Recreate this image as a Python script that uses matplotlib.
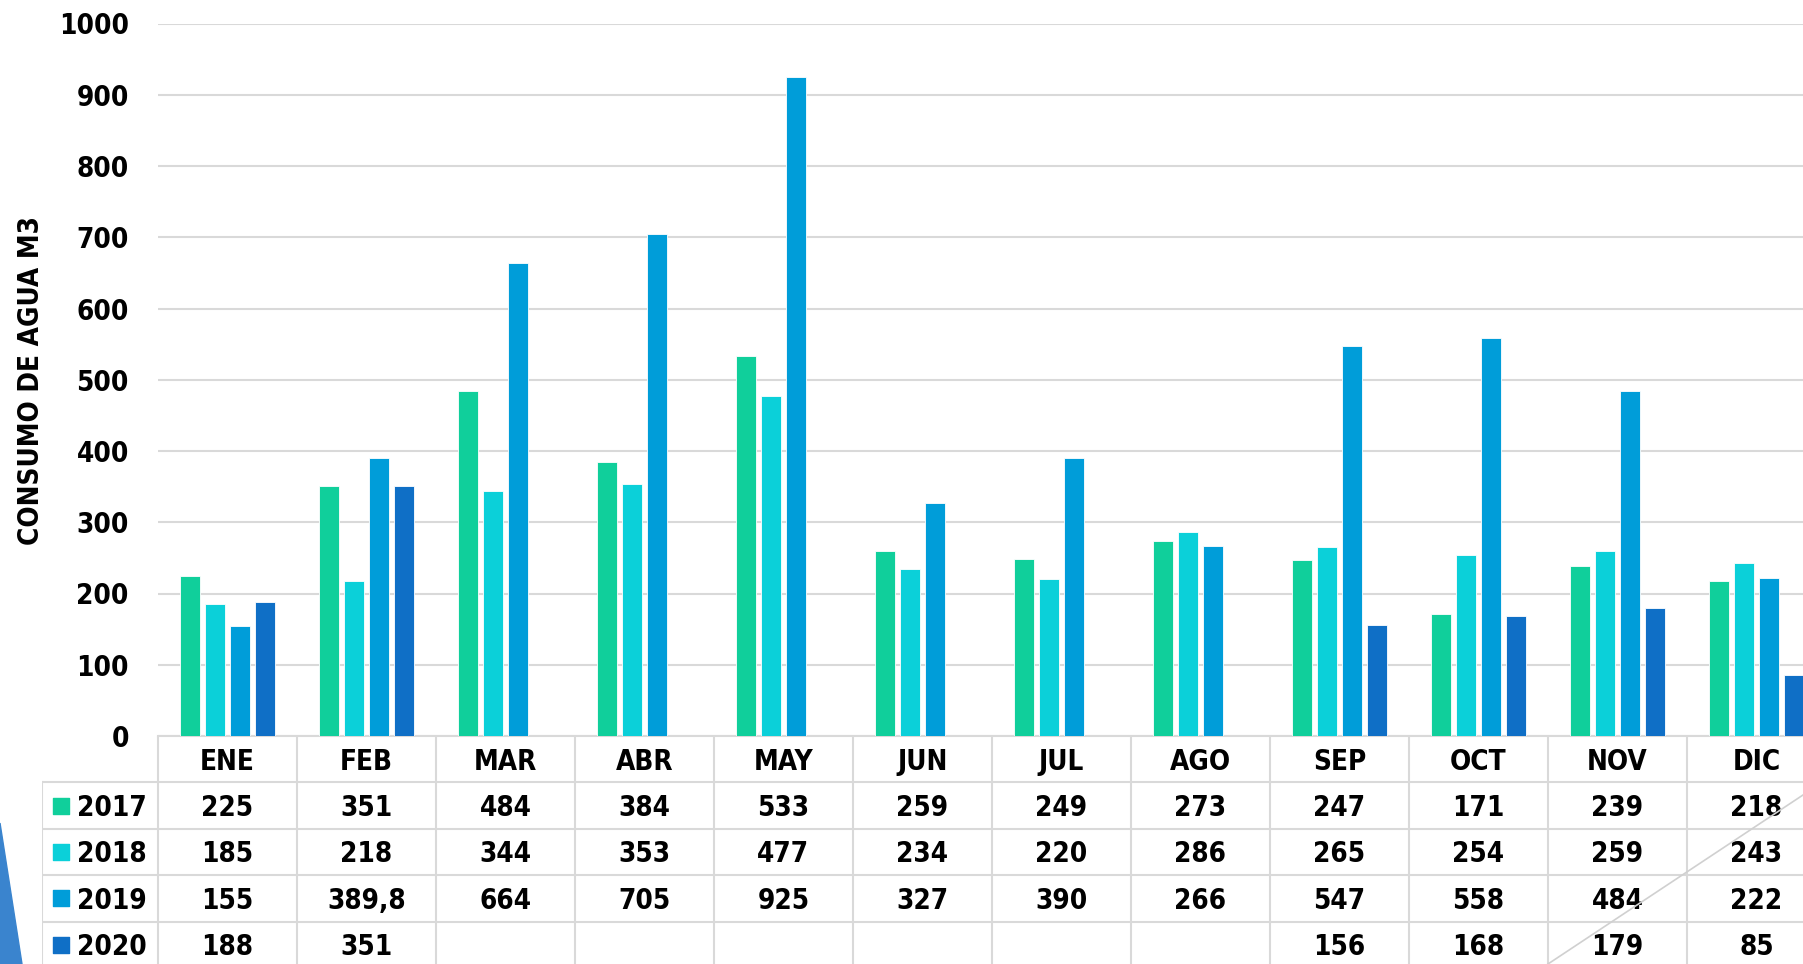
import matplotlib.pyplot as plt
from matplotlib.patches import Polygon
from matplotlib.lines import Line2D
import numpy as np

plt.rcParams['font.family'] = ['DejaVu Sans']
plt.rcParams['font.weight'] = 'bold'
plt.rcParams['font.stretch'] = 'condensed'

# data
months = ["ENE", "FEB", "MAR", "ABR", "MAY", "JUN", "JUL", "AGO", "SEP", "OCT", "NOV", "DIC"]
years = ["2017", "2018", "2019", "2020"]
v2017 = [225, 351, 484, 384, 533, 259, 249, 273, 247, 171, 239, 218]
v2018 = [185, 218, 344, 353, 477, 234, 220, 286, 265, 254, 259, 243]
v2019 = [155, 389.8, 664, 705, 925, 327, 390, 266, 547, 558, 484, 222]
v2020 = [188, 351, None, None, None, None, None, None, 156, 168, 179, 85]
colors = ["#10CF9B", "#0BD0D9", "#009DD9", "#0F6FC6"]
grid_c = "#D9D9D9"

W, H = 1803, 964
fig = plt.figure(figsize=(W / 100, H / 100), dpi=100)

# pixel layout of the original chart (the chart is cut at the right)
col_w = 139.0
x0 = 158.0
x1 = x0 + 12 * col_w
y_top, y_base = 23.5, 736.0
row_h = 46.4
leg_left = 42.0

ax = fig.add_axes([x0 / W, 1 - y_base / H, (x1 - x0) / W, (y_base - y_top) / H])
x = np.arange(len(months))
slot = 25 / col_w
bw = 20 / col_w
for i, (vals, c) in enumerate(zip([v2017, v2018, v2019, v2020], colors)):
    h = [np.nan if v is None else v for v in vals]
    ax.bar(x + (i - 1.5) * slot, h, width=bw, color=c, edgecolor="white", linewidth=0.6, zorder=3)

ax.set_xlim(-0.5, 11.5)
ax.set_ylim(0, 1000)
ax.set_yticks(range(0, 1001, 100))
ax.tick_params(axis="y", length=0, pad=21, labelsize=20)
ax.set_xticks([])
ax.grid(axis="y", color=grid_c, linewidth=1.5, zorder=0)
for s in ["top", "right", "left"]:
    ax.spines[s].set_visible(False)
ax.spines["bottom"].set_color(grid_c)
ax.spines["bottom"].set_linewidth(1.5)
for lab in ax.get_yticklabels():
    lab.set_fontweight("bold")
fig.text(31 / W, 1 - 381 / H, "CONSUMO DE AGUA M3", rotation=90, ha="center", va="center",
         fontsize=20, fontweight="bold")

# data table below the plot
leg_x = -0.5 - (x0 - leg_left) / col_w
tb = fig.add_axes([leg_left / W, 1 - (y_base + 5 * row_h) / H, (x1 - leg_left) / W, 5 * row_h / H])
tb.set_xlim(leg_x, 11.5)
tb.set_ylim(5, 0)
tb.axis("off")
for r in range(1, 5):
    tb.add_line(Line2D([leg_x, 11.5], [r, r], color=grid_c, lw=1.5))
for k in range(13):
    tb.add_line(Line2D([k - 0.5, k - 0.5], [0, 5], color=grid_c, lw=1.5))
tb.add_line(Line2D([leg_x, leg_x], [1, 5], color=grid_c, lw=1.5))

fs = 20
for j, m in enumerate(months):
    tb.text(j, 0.55, m, ha="center", va="center", fontsize=fs, fontweight="bold")
for r, (yr, vals, c) in enumerate(zip(years, [v2017, v2018, v2019, v2020], colors)):
    yc = r + 1.55
    tb.scatter([leg_x + (60.5 - leg_left) / col_w], [yc - 0.05], marker="s", s=120, color=c, clip_on=False)
    tb.text(leg_x + (77 - leg_left) / col_w, yc, yr, ha="left", va="center", fontsize=fs, fontweight="bold")
    for j, v in enumerate(vals):
        if v is None:
            continue
        s = str(v).replace(".", ",")
        tb.text(j, yc, s, ha="center", va="center", fontsize=fs, fontweight="bold")

# slide decorations
fig.patches.append(Polygon([[0, 1 - 823 / H], [22 / W, 0], [0, 0]], closed=True,
                           transform=fig.transFigure, color="#3A84CE", zorder=5))
fig.add_artist(Line2D([1548 / W, 1.0], [0, 1 - 795 / H], transform=fig.transFigure,
                      color="#D0D0D0", lw=1.2, zorder=5))

fig.savefig("out.png", dpi=100)
